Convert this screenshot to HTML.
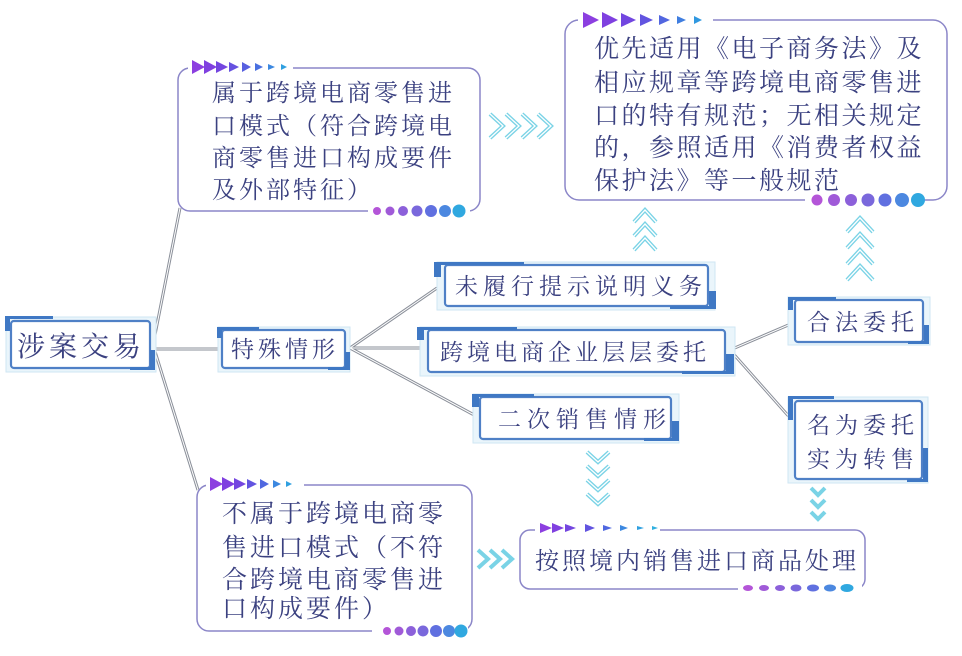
<!DOCTYPE html>
<html><head><meta charset="utf-8"><style>
html,body{margin:0;padding:0;background:#fff;}
svg{display:block;}
text{font-family:"Liberation Serif","Noto Serif CJK SC",serif;fill:#3b4180;}
</style></head><body>
<svg width="962" height="656" viewBox="0 0 962 656" xmlns="http://www.w3.org/2000/svg">
<defs>
<linearGradient id="tg" x1="0" x2="1"><stop offset="0" stop-color="#8a3fe0"/><stop offset="0.6" stop-color="#4a6fe0"/><stop offset="1" stop-color="#2fb0e0"/></linearGradient>
<g id="tri"><polygon points="0,0 13,7 0,14" /></g>
</defs>

<!-- connectors (double gray lines) -->
<g stroke="#8a8f99" stroke-width="3" fill="none">
<line x1="153" y1="345" x2="180" y2="208"/>
<line x1="153" y1="345" x2="198" y2="490"/>
<line x1="153" y1="349" x2="222" y2="349"/>
<line x1="350" y1="348" x2="437" y2="288"/>
<line x1="350" y1="348" x2="428" y2="348"/>
<line x1="350" y1="348" x2="476" y2="416"/>
<line x1="730" y1="350" x2="793" y2="323"/>
<line x1="730" y1="350" x2="792" y2="420"/>
</g>
<g stroke="#fff" stroke-width="1" fill="none">
<line x1="153" y1="345" x2="180" y2="208"/>
<line x1="153" y1="345" x2="198" y2="490"/>
<line x1="153" y1="349" x2="222" y2="349"/>
<line x1="350" y1="348" x2="437" y2="288"/>
<line x1="350" y1="348" x2="428" y2="348"/>
<line x1="350" y1="348" x2="476" y2="416"/>
<line x1="730" y1="350" x2="793" y2="323"/>
<line x1="730" y1="350" x2="792" y2="420"/>
</g>

<!-- rounded callout boxes -->
<g fill="#fff" stroke="#8b86c8" stroke-width="1.5">
<rect x="178" y="68" width="302" height="143" rx="12"/>
<rect x="565" y="20" width="382" height="180" rx="14"/>
<rect x="197" y="485" width="275" height="146" rx="12"/>
<rect x="520" y="530" width="345" height="59" rx="10"/>
</g>
<!-- gaps behind triangles / dots -->
<g fill="#fff">
<rect x="188" y="60" width="105" height="14"/>
<rect x="578" y="12" width="135" height="16"/>
<rect x="206" y="478" width="98" height="14"/>
<rect x="535" y="524" width="125" height="12"/>
<rect x="368" y="203" width="102" height="16"/>
<rect x="805" y="192" width="118" height="16"/>
<rect x="372" y="623" width="96" height="16"/>
<rect x="738" y="582" width="124" height="12"/>
</g>

<!-- triangle rows -->
<g>
<polygon points="192,60 205,67 192,74" fill="#8c3fe0"/><polygon points="204,60 217,67 204,74" fill="#8040e0"/><polygon points="216,61 228,67 216,73" fill="#7446e0"/><polygon points="229,62 239,67 229,72" fill="#6652e0"/><polygon points="242,62 251,67 242,72" fill="#5860e0"/><polygon points="255,63 263,67 255,71" fill="#4a70e0"/><polygon points="268,64 275,67 268,70" fill="#3c88e0"/><polygon points="281,64 287,67 281,70" fill="#30a0e0"/>

<polygon points="583,12 599,20 583,28" fill="#8c3fe0"/><polygon points="602,12 618,20 602,28" fill="#7f40e0"/><polygon points="621,13 636,20 621,27" fill="#7246e0"/><polygon points="640,14 653,20 640,26" fill="#6254e0"/><polygon points="659,15 670,20 659,25" fill="#5266e0"/><polygon points="677,16 686,20 677,24" fill="#407ee0"/><polygon points="694,16 702,20 694,24" fill="#3098e0"/>

<polygon points="210,477 223,484 210,491" fill="#8c3fe0"/><polygon points="222,477 235,484 222,491" fill="#8040e0"/><polygon points="234,478 246,484 234,490" fill="#7446e0"/><polygon points="247,479 257,484 247,489" fill="#6254e0"/><polygon points="260,479 269,484 260,489" fill="#5068e0"/><polygon points="273,480 281,484 273,488" fill="#3c88e0"/><polygon points="286,481 292,484 286,487" fill="#30a0e0"/>

<polygon points="540,523 552,528 540,533" fill="#8c3fe0"/><polygon points="552,523 564,528 552,533" fill="#8040e0"/><polygon points="565,524 576,528 565,532" fill="#7446e0"/><polygon points="585,524 595,528 585,532" fill="#6254e0"/><polygon points="603,525 612,528 603,531" fill="#5068e0"/><polygon points="620,525 628,528 620,531" fill="#3c88e0"/><polygon points="637,526 644,528 637,530" fill="#30a0e0"/><polygon points="652,526 658,528 652,530" fill="#30b0e0"/>
</g>

<!-- dot rows -->
<g>
<circle cx="377" cy="211" r="4" fill="#b455d8"/><circle cx="390" cy="211" r="4.5" fill="#a05ad8"/><circle cx="403" cy="211" r="5" fill="#8c60da"/><circle cx="417" cy="211" r="5.5" fill="#7a68dc"/><circle cx="431" cy="211" r="6" fill="#6070e0"/><circle cx="445" cy="211" r="6" fill="#4c88e0"/><circle cx="459" cy="211" r="6.5" fill="#30a8e0"/>
<circle cx="817" cy="200" r="5.5" fill="#b455d8"/><circle cx="834" cy="200" r="6" fill="#a05ad8"/><circle cx="851" cy="200" r="6" fill="#8c60da"/><circle cx="868" cy="200" r="6.5" fill="#7a68dc"/><circle cx="885" cy="200" r="6.5" fill="#6070e0"/><circle cx="902" cy="200" r="7" fill="#4c88e0"/><circle cx="918" cy="200" r="7" fill="#30a8e0"/>
<circle cx="387" cy="631" r="4" fill="#b455d8"/><circle cx="399" cy="631" r="4.5" fill="#a05ad8"/><circle cx="411" cy="631" r="5" fill="#8c60da"/><circle cx="423" cy="631" r="5.5" fill="#7a68dc"/><circle cx="436" cy="631" r="6" fill="#6070e0"/><circle cx="449" cy="631" r="6" fill="#4c88e0"/><circle cx="461" cy="631" r="6.5" fill="#30a8e0"/>
<ellipse cx="748" cy="588" rx="5" ry="3" fill="#b455d8"/><ellipse cx="764" cy="588" rx="5" ry="3" fill="#a05ad8"/><ellipse cx="780" cy="588" rx="5" ry="3" fill="#8c60da"/><ellipse cx="796" cy="588" rx="5.5" ry="3.5" fill="#7a68dc"/><ellipse cx="813" cy="588" rx="6" ry="3.5" fill="#6070e0"/><ellipse cx="830" cy="588" rx="6" ry="3.5" fill="#4c88e0"/><ellipse cx="847" cy="588" rx="6.5" ry="4" fill="#30a8e0"/>
</g>

<!-- chevrons -->
<g fill="none" stroke="#7ad3e6" stroke-width="4" stroke-linejoin="miter">
<polyline points="490,114 503,126 490,138"/><polyline points="506,114 519,126 506,138"/><polyline points="522,114 535,126 522,138"/><polyline points="538,114 551,126 538,138"/>
<polyline points="478,550 488,559 478,568"/><polyline points="490,550 500,559 490,568"/><polyline points="502,550 512,559 502,568"/>
<polyline points="634,222 645,210 656,222"/><polyline points="634,236 645,224 656,236"/><polyline points="634,250 645,238 656,250"/>
<polyline points="847,232 860,218 873,232"/><polyline points="847,248 860,234 873,248"/><polyline points="847,264 860,250 873,264"/><polyline points="847,280 860,266 873,280"/>
<polyline points="587,452 598,462 609,452"/><polyline points="587,466 598,476 609,466"/><polyline points="587,480 598,490 609,480"/><polyline points="587,494 598,504 609,494"/>
<polyline points="811,488 818,495 825,488"/><polyline points="811,500 818,507 825,500"/><polyline points="811,512 818,519 825,512"/>
</g>
<g fill="none" stroke="#fff" stroke-width="1.3">
<polyline points="490,114 503,126 490,138"/><polyline points="506,114 519,126 506,138"/><polyline points="522,114 535,126 522,138"/><polyline points="538,114 551,126 538,138"/>
<polyline points="634,222 645,210 656,222"/><polyline points="634,236 645,224 656,236"/><polyline points="634,250 645,238 656,250"/>
<polyline points="847,232 860,218 873,232"/><polyline points="847,248 860,234 873,248"/><polyline points="847,264 860,250 873,264"/><polyline points="847,280 860,266 873,280"/>
<polyline points="587,452 598,462 609,452"/><polyline points="587,466 598,476 609,466"/><polyline points="587,480 598,490 609,480"/><polyline points="587,494 598,504 609,494"/>
</g>

<!-- blue node boxes -->
<g>
<!-- generic: outer faint, inner blue -->
<g fill="#fff">
<rect x="6" y="317" width="150" height="55" fill="#eaf5fb" stroke="#cfe6f3"/>
<rect x="11" y="321" width="139" height="47" rx="3" stroke="#4f80c6" stroke-width="2.2"/>
<rect x="218" y="327" width="132" height="45" fill="#eaf5fb" stroke="#cfe6f3"/>
<rect x="222" y="330" width="123" height="38" rx="3" stroke="#4f80c6" stroke-width="2.2"/>
<rect x="437" y="262" width="278" height="48" fill="#eaf5fb" stroke="#cfe6f3"/>
<rect x="445" y="265" width="263" height="41" rx="3" stroke="#4f80c6" stroke-width="2.2"/>
<rect x="420" y="327" width="315" height="49" fill="#eaf5fb" stroke="#cfe6f3"/>
<rect x="428" y="330" width="297" height="42" rx="3" stroke="#4f80c6" stroke-width="2.2"/>
<rect x="473" y="394" width="206" height="49" fill="#eaf5fb" stroke="#cfe6f3"/>
<rect x="480" y="397" width="191" height="42" rx="3" stroke="#4f80c6" stroke-width="2.2"/>
<rect x="788" y="297" width="142" height="48" fill="#eaf5fb" stroke="#cfe6f3"/>
<rect x="795" y="300" width="128" height="42" rx="3" stroke="#4f80c6" stroke-width="2.2"/>
<rect x="788" y="397" width="140" height="86" fill="#eaf5fb" stroke="#cfe6f3"/>
<rect x="795" y="401" width="127" height="78" rx="3" stroke="#4f80c6" stroke-width="2.2"/>
</g>
<!-- tabs -->
<g fill="#3f78c4">
<rect x="5" y="317" width="5" height="14"/><rect x="5" y="316" width="48" height="3"/>
<rect x="150" y="350" width="5" height="19"/><rect x="130" y="367" width="25" height="3"/>
<rect x="217" y="328" width="5" height="10"/><rect x="217" y="327" width="42" height="3"/>
<rect x="345" y="352" width="5" height="17"/><rect x="328" y="367" width="22" height="3"/>
<rect x="434" y="263" width="7" height="14"/><rect x="434" y="262" width="90" height="3"/>
<rect x="709" y="291" width="7" height="17"/><rect x="670" y="306" width="46" height="3"/>
<rect x="417" y="328" width="7" height="12"/><rect x="417" y="327" width="100" height="3"/>
<rect x="726" y="354" width="8" height="19"/><rect x="682" y="371" width="52" height="3"/>
<rect x="472" y="395" width="7" height="12"/><rect x="472" y="394" width="62" height="3"/>
<rect x="672" y="421" width="7" height="19"/><rect x="644" y="438" width="35" height="3"/>
<rect x="788" y="298" width="5" height="12"/><rect x="788" y="297" width="48" height="3"/>
<rect x="924" y="325" width="5" height="17"/><rect x="908" y="341" width="21" height="3"/>
<rect x="788" y="398" width="5" height="22"/><rect x="788" y="396" width="46" height="3"/>
<rect x="923" y="448" width="5" height="32"/><rect x="907" y="479" width="21" height="3"/>
</g>
</g>

<!-- texts -->
<g font-size="28"><text x="17" y="356" letter-spacing="4">涉案交易</text></g>
<g font-size="23">
<text x="231" y="357" letter-spacing="4">特殊情形</text>
<text x="455" y="294" letter-spacing="5">未履行提示说明义务</text>
<text x="440" y="360" letter-spacing="4">跨境电商企业层层委托</text>
<text x="498" y="427" letter-spacing="6">二次销售情形</text>
<text x="807" y="330" letter-spacing="5">合法委托</text>
<text x="807" y="433" letter-spacing="5">名为委托</text>
<text x="807" y="467" letter-spacing="5">实为转售</text>
</g>
<g font-size="24" letter-spacing="3">
<text x="212" y="101">属于跨境电商零售进</text>
<text x="212" y="134">口模式（符合跨境电</text>
<text x="212" y="166">商零售进口构成要件</text>
<text x="212" y="198">及外部特征）</text>
</g>
<g font-size="25" letter-spacing="2.5">
<text x="594" y="57">优先适用《电子商务法》及</text>
<text x="594" y="91">相应规章等跨境电商零售进</text>
<text x="594" y="124">口的特有规范；无相关规定</text>
<text x="594" y="156">的，参照适用《消费者权益</text>
<text x="594" y="189">保护法》等一般规范</text>
</g>
<g font-size="25" letter-spacing="3">
<text x="222" y="522">不属于跨境电商零</text>
<text x="222" y="556">售进口模式（不符</text>
<text x="222" y="588">合跨境电商零售进</text>
<text x="222" y="617">口构成要件）</text>
</g>
<g font-size="24" letter-spacing="3"><text x="535" y="569">按照境内销售进口商品处理</text></g>
</svg>
</body></html>
